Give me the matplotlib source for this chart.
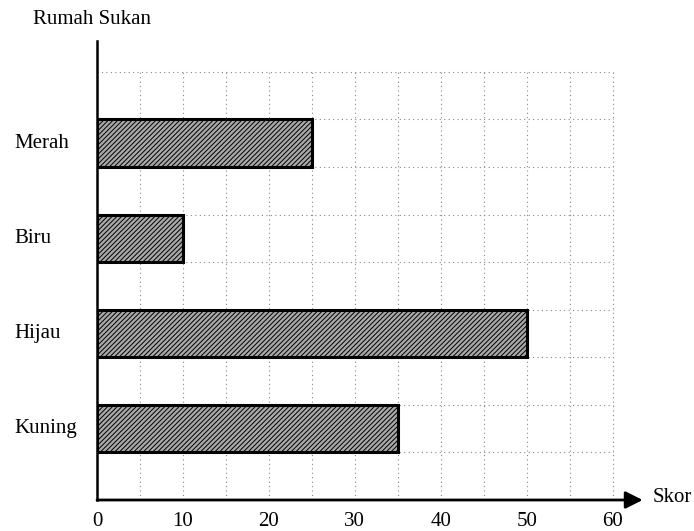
import matplotlib
matplotlib.use("Agg")
import matplotlib.pyplot as plt
from matplotlib import transforms

# Data
houses = ["Merah", "Biru", "Hijau", "Kuning"]
scores = [25, 10, 50, 35]
positions = [7.5, 5.5, 3.5, 1.5]
x_ticks = [0, 10, 20, 30, 40, 50, 60]

plt.rcParams["font.family"] = ["Liberation Serif", "DejaVu Serif"]
plt.rcParams["hatch.linewidth"] = 0.7
plt.rcParams["hatch.color"] = "#222222"

fig = plt.figure(figsize=(6.94, 5.31), dpi=100)
ax = fig.add_axes([97 / 694, 31 / 531, 550 / 694, 459 / 531])

ax.set_xlim(0, 64)
ax.set_ylim(0, 9.65)

# dotted grid, only inside the 0-60 / 0-9 box
grid_style = dict(colors="#888888", linestyles=(0, (1, 3)), linewidth=0.8, zorder=1)
ax.vlines(range(5, 61, 5), 0, 9, **grid_style)
ax.hlines(range(1, 10), 0, 60, **grid_style)

ax.barh(positions, scores, height=1.0, color="#a8a8a8", edgecolor="black",
        linewidth=2.2, hatch="///////", zorder=3)

# axes: left spine plus an arrow for the score axis
for side in ["top", "right", "bottom"]:
    ax.spines[side].set_visible(False)
ax.spines["left"].set_linewidth(1.8)
ax.annotate("", xy=(63.5, 0), xytext=(0, 0),
            arrowprops=dict(arrowstyle="-|>", lw=2, color="black",
                            mutation_scale=26, shrinkA=0, shrinkB=0),
            annotation_clip=False, zorder=4)

ax.set_yticks([])
ax.set_xticks(x_ticks)
ax.set_xticklabels([str(t) for t in x_ticks], fontsize=15)
ax.tick_params(axis="x", length=0, pad=9)

trans = transforms.blended_transform_factory(fig.transFigure, ax.transData)
for name, pos in zip(houses, positions):
    ax.text(14 / 694, pos, name, transform=trans, ha="left", va="center",
            fontsize=15)

fig.text(33 / 694, 1 - 20 / 531, "Rumah Sukan", ha="left", va="center",
         fontsize=15)
fig.text(653 / 694, 1 - 498 / 531, "Skor", ha="left", va="center", fontsize=15)

fig.savefig("out.png", dpi=100)
